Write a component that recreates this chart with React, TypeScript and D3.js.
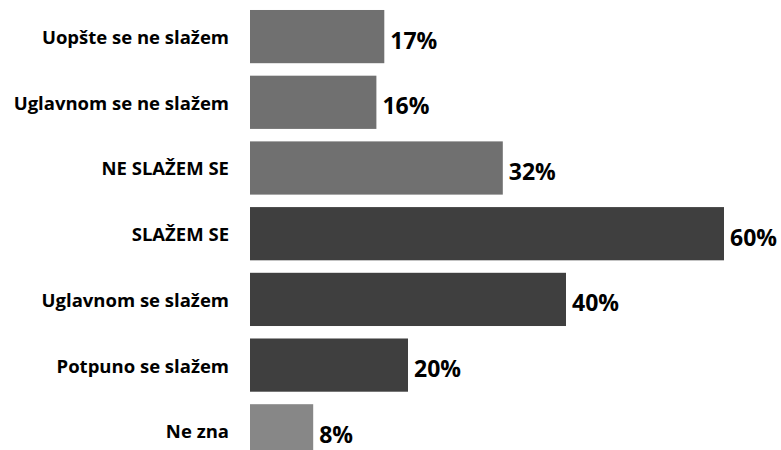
import React from "react";
import * as d3 from "d3";

const categories = [
  "Uopšte se ne slažem",
  "Uglavnom se ne slažem",
  "NE SLAŽEM SE",
  "SLAŽEM SE",
  "Uglavnom se slažem",
  "Potpuno se slažem",
  "Ne zna",
];
const values = [17, 16, 32, 60, 40, 20, 8];
const colors = ["#707070", "#707070", "#707070", "#3f3f3f", "#3f3f3f", "#3f3f3f", "#878787"];

const W = 781;
const H = 450;

export default function App() {
  const x = d3.scaleLinear().domain([0, 60]).range([250, 724]);
  const y = d3
    .scaleBand<string>()
    .domain(categories)
    .range([0, 467.4])
    .paddingInner(0.19)
    .paddingOuter(0.152);
  const font = "'Open Sans', Lato, sans-serif";
  return (
    <svg
      width={W}
      height={H}
      style={{ position: "absolute", left: 0, top: 0, background: "#fff" }}
      fontFamily={font}
    >
      {categories.map((c, i) => {
        const y0 = y(c)!;
        const bw = y.bandwidth();
        const cy = y0 + bw / 2;
        return (
          <g key={c}>
            <rect x={x(0)} y={y0} width={x(values[i]) - x(0)} height={bw} fill={colors[i]} />
            <text
              x={229}
              y={cy}
              textAnchor="end"
              dominantBaseline="central"
              fontSize={18.5}
              fontWeight="bold"
              fill="#000"
            >
              {c}
            </text>
            <text
              x={x(values[i]) + 6}
              y={cy + 3}
              dominantBaseline="central"
              fontSize={23}
              fontWeight="bold"
              fill="#000"
            >
              {values[i]}%
            </text>
          </g>
        );
      })}
    </svg>
  );
}
